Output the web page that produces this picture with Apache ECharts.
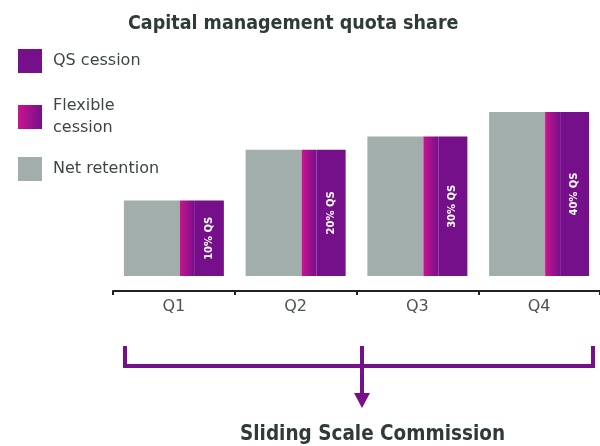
<!DOCTYPE html>
<html>
<head>
<meta charset="utf-8">
<script src="https://cdn.jsdelivr.net/npm/echarts@6/dist/echarts.min.js"></script>
<style>html,body{margin:0;padding:0;background:#fff}#c{width:600px;height:446px}</style>
</head>
<body>
<div id="c"></div>
<script>
const quarters = ['Q1', 'Q2', 'Q3', 'Q4'];
// relative total height of each quarter's bar (Q4 = 100)
const netRetention = [46, 77, 85, 100];
const flexibleCession = [46, 77, 85, 100];
const qsCession = [46, 77, 85, 100];
const qsLabels = ['10% QS', '20% QS', '30% QS', '40% QS'];

const PURPLE = '#75108a';
const PINK = '#c9148f';
const GRAY = '#a2aeab';
const FONT = 'DejaVu Sans';
const CFONT = '"DejaVu Sans Condensed", "DejaVu Sans"';
const flexGrad = new echarts.graphic.LinearGradient(0, 0, 1, 0, [
  {offset: 0, color: PINK}, {offset: 1, color: PURPLE}
]);

const legendBase = {
  orient: 'vertical', left: 18, padding: 0, itemWidth: 24, itemHeight: 24,
  icon: 'rect', selectedMode: false,
  textStyle: {fontFamily: FONT, fontSize: 16, color: '#3d4644', padding: [0, 0, 0, 6], lineHeight: 22}
};

const chart = echarts.init(document.getElementById('c'), null, {renderer: 'canvas'});
chart.setOption({
  animation: false,
  title: [
    {text: 'Capital management quota share', left: 123, top: 9,
     textStyle: {fontFamily: CFONT, fontSize: 19.5, fontWeight: 'bold', color: '#2e3b38'}},
    {text: 'Sliding Scale Commission', left: 235, top: 419,
     textStyle: {fontFamily: CFONT, fontSize: 20.5, fontWeight: 'bold', color: '#2e3b38'}}
  ],
  legend: [
    Object.assign({}, legendBase, {top: 49, data: ['QS cession']}),
    Object.assign({}, legendBase, {top: 95, data: ['Flexible cession'],
      formatter: () => 'Flexible\ncession'}),
    Object.assign({}, legendBase, {top: 157, data: ['Net retention']})
  ],
  grid: {left: 113, right: 0, top: 112, bottom: 170},
  xAxis: {
    type: 'category', data: quarters, offset: 15,
    axisLine: {onZero: false, lineStyle: {color: '#222', width: 2}},
    axisTick: {show: true, length: 4, lineStyle: {color: '#222', width: 2}},
    axisLabel: {fontFamily: FONT, fontSize: 16, color: '#4b5452', margin: 8}
  },
  yAxis: {type: 'value', show: false, min: 0, max: 100, splitLine: {show: false}},
  series: [
    {name: 'Net retention', type: 'bar', data: netRetention, barWidth: 56, barGap: '0%',
     itemStyle: {color: GRAY}},
    {name: 'Flexible cession', type: 'bar', data: flexibleCession, barWidth: 15, barGap: '0%',
     itemStyle: {color: flexGrad}},
    {name: 'QS cession', type: 'bar', data: qsCession, barWidth: 29, barGap: '0%',
     itemStyle: {color: PURPLE},
     label: {show: true, position: 'inside', rotate: 90, color: '#fff',
       fontFamily: FONT, fontSize: 10, fontWeight: 'bold',
       formatter: p => qsLabels[p.dataIndex]}}
  ],
  graphic: [
    {type: 'polyline', shape: {points: [[125, 346], [125, 366], [593, 366], [593, 346]]},
     style: {stroke: PURPLE, lineWidth: 4, fill: null}},
    {type: 'line', shape: {x1: 362, y1: 346, x2: 362, y2: 396},
     style: {stroke: PURPLE, lineWidth: 4}},
    {type: 'polygon', shape: {points: [[354, 393], [370, 393], [362, 408]]},
     style: {fill: PURPLE}}
  ]
});
</script>
</body>
</html>
